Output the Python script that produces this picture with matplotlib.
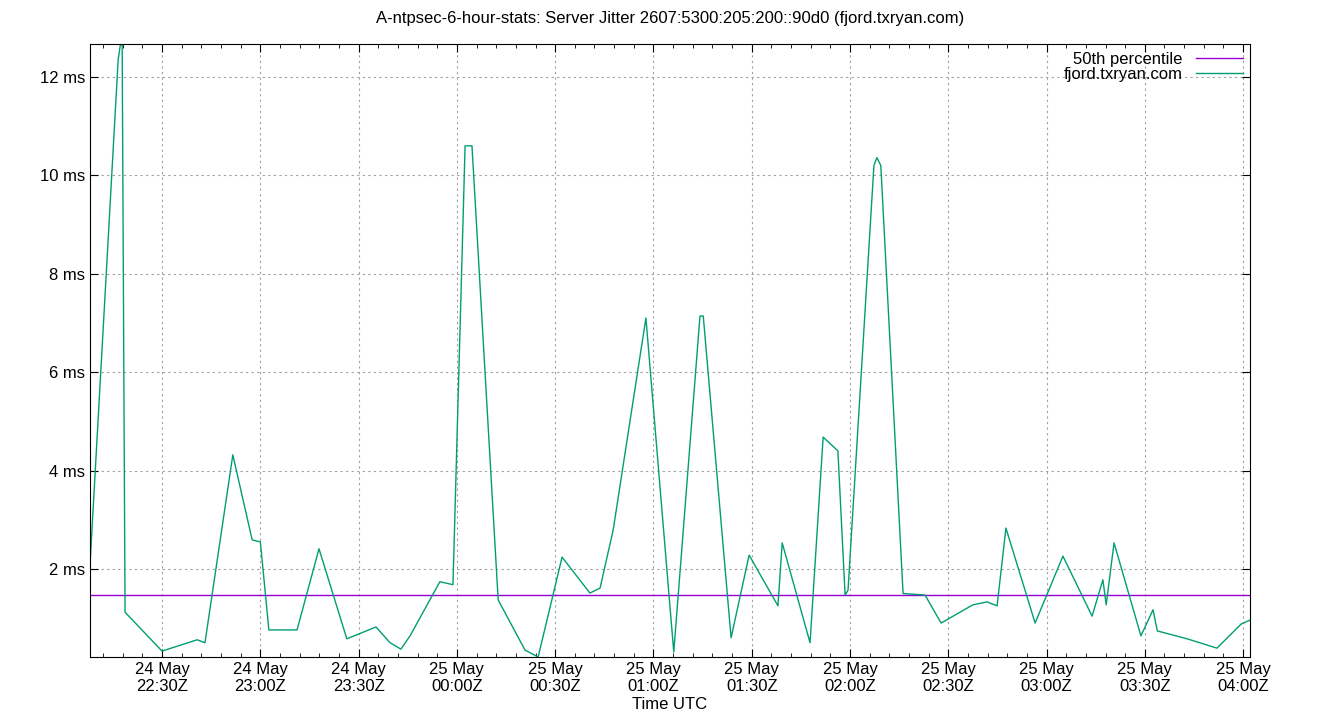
import matplotlib
matplotlib.use('Agg')
import matplotlib.pyplot as plt
import matplotlib.dates as mdates
import matplotlib.ticker as mtick
import datetime as dt

plt.rcParams['font.family'] = ['Liberation Sans', 'DejaVu Sans']

# minutes after 2024-05-24 22:00Z, jitter in ms
MINUTES = [8.0, 16.6, 17.8, 18.7, 30.0, 40.7, 43.1, 51.6, 57.5, 60.0, 62.6, 71.2, 77.9,
           86.4, 95.3, 99.6, 102.9, 105.7, 114.8, 118.8, 122.5, 124.6, 132.6, 140.8,
           144.8, 152.1, 160.6, 163.7, 167.7, 177.7, 186.2, 194.2, 195.2, 203.7, 209.2,
           218.0, 219.3, 227.8, 231.8, 236.3, 238.5, 239.4, 247.3, 248.2, 249.4, 256.2,
           262.9, 267.8, 277.5, 281.8, 284.9, 287.6, 296.5, 305.0, 313.9, 317.2, 318.2,
           320.6, 328.8, 332.5, 333.8, 342.9, 352.0, 359.4, 362.1]
JITTER = [2.08, 12.35, 12.9, 1.12, 0.33, 0.56, 0.50, 4.32, 2.59, 2.55, 0.76, 0.76, 2.41,
          0.58, 0.82, 0.50, 0.37, 0.64, 1.74, 1.68, 10.6, 10.6, 1.37, 0.35,
          0.21, 2.24, 1.51, 1.61, 2.79, 7.1, 0.31, 7.14, 7.14, 0.60, 2.28,
          1.25, 2.53, 0.50, 4.68, 4.40, 1.47, 1.57, 10.2, 10.36, 10.2, 1.50,
          1.47, 0.90, 1.27, 1.33, 1.25, 2.83, 0.90, 2.26, 1.04, 1.78, 1.27,
          2.53, 0.64, 1.17, 0.74, 0.58, 0.39, 0.88, 0.96]
P50 = 1.47

t0 = dt.datetime(2024, 5, 24, 22, 0)
X = [t0 + dt.timedelta(minutes=m) for m in MINUTES]

fig = plt.figure(figsize=(13.4, 7.2), dpi=100)
ax = fig.add_axes([90/1340, 63/720, 1160/1340, 613/720])

ax.axhline(P50, color='#9400d3', linewidth=1, label='50th percentile')
ax.plot(X, JITTER, color='#009e73', linewidth=1, label='fjord.txryan.com')

ax.set_xlim(X[0], X[-1])
ax.set_ylim(0.21, 12.67)

ax.yaxis.set_major_locator(mtick.MultipleLocator(2))
ax.yaxis.set_minor_locator(mtick.NullLocator())
ax.yaxis.set_major_formatter(mtick.FuncFormatter(lambda v, p: f'{v:g} ms'))
ax.xaxis.set_major_locator(mdates.MinuteLocator(byminute=[0, 30]))
ax.xaxis.set_minor_locator(mdates.MinuteLocator(byminute=range(0, 60, 6)))
ax.xaxis.set_major_formatter(mdates.DateFormatter('%d %b\n%H:%MZ'))

ax.tick_params(which='both', direction='in', top=True, right=True, labelsize=12)
ax.tick_params(which='major', length=6)
ax.tick_params(which='minor', length=3)
ax.grid(True, which='major', linestyle=(0, (2, 3)), color='#a0a0a0', linewidth=0.8)

ax.set_xlabel('Time UTC', fontsize=12, labelpad=2)
fig.suptitle('A-ntpsec-6-hour-stats: Server Jitter 2607:5300:205:200::90d0 (fjord.txryan.com)',
             fontsize=12, y=0.985)
leg = ax.legend(loc='upper right', frameon=False, fontsize=12, markerfirst=False,
                handlelength=2.8, labelspacing=0.0, borderaxespad=0.05)
for t in leg.get_texts():
    t.set_ha('right')

fig.savefig('out.png', dpi=100)
